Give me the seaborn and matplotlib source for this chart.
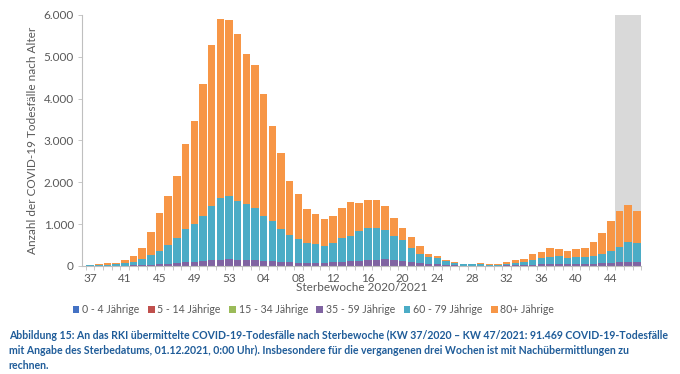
import matplotlib
matplotlib.use("Agg")
import matplotlib.pyplot as plt
import matplotlib.ticker as mticker
import numpy as np
import pandas as pd
import seaborn as sns

# Sterbewochen KW 37/2020 - KW 47/2021
weeks = [f"{w:02d}" for w in range(37, 54)] + [f"{w:02d}" for w in range(1, 48)]

age_groups = ["0 - 4 Jährige", "5 - 14 Jährige", "15 - 34 Jährige",
              "35 - 59 Jährige", "60 - 79 Jährige", "80+ Jährige"]

g_0_4 = [0] * 64
g_5_14 = [0] * 64
g_15_34 = [0, 0, 0, 0, 0, 1, 1, 1, 2, 2, 2, 3, 3, 4, 4, 5, 5,
           5, 4, 4, 4, 3, 3, 3, 2, 2, 2, 2, 3, 3, 4, 4, 5, 5, 5, 4, 3, 3, 2, 1, 1,
           1, 0, 0, 0, 0, 0, 0, 0, 0, 1, 1, 1, 1, 1, 2, 2, 2, 2, 2, 3, 3, 3, 3]
g_35_59 = [2, 3, 4, 5, 8, 12, 20, 30, 45, 55, 70, 90, 100, 110, 130, 145, 160,
           145, 140, 130, 115, 105, 90, 80, 75, 70, 70, 75, 85, 100, 110, 120, 130,
           140, 150, 130, 110, 85, 60, 45, 35, 20, 15, 8, 8, 8, 6, 6, 10, 15, 20,
           30, 35, 40, 45, 40, 40, 45, 50, 60, 70, 80, 90, 85]
g_60_79 = [8, 17, 26, 30, 52, 88, 140, 225, 320, 445, 590, 785, 895, 1085, 1290,
           1480, 1500, 1410, 1340, 1255, 1085, 960, 785, 645, 565, 470, 450, 405,
           455, 575, 590, 700, 770, 760, 695, 570, 495, 345, 225, 160, 150, 85, 55,
           32, 32, 32, 24, 24, 40, 55, 75, 115, 150, 165, 185, 145, 160, 155, 190,
           225, 290, 360, 475, 450]
g_80plus = [10, 30, 35, 45, 70, 140, 260, 545, 910, 1160, 1490, 2045, 2455, 3155,
            3860, 4275, 4210, 3995, 3580, 3415, 2910, 2285, 1815, 1305, 1080, 820,
            715, 645, 655, 705, 815, 680, 680, 680, 575, 450, 310, 255, 195, 80, 45,
            40, 25, 15, 10, 25, 10, 25, 40, 60, 75, 135, 150, 225, 175, 180, 200,
            230, 325, 495, 700, 865, 885, 770]

colors = ["#4472C4", "#C0504D", "#9BBB59", "#8064A2", "#4BACC6", "#F79646"]

df = pd.DataFrame({
    age_groups[0]: g_0_4, age_groups[1]: g_5_14, age_groups[2]: g_15_34,
    age_groups[3]: g_35_59, age_groups[4]: g_60_79, age_groups[5]: g_80plus,
}, index=weeks)

sns.set_theme(style="white")
plt.rcParams["font.family"] = ["Lato", "DejaVu Sans"]

fig = plt.figure(figsize=(6.8, 3.74), dpi=100)
ax = fig.add_axes([0.121, 0.289, 0.822, 0.671])

x = np.arange(len(weeks))
# grey band for the last three weeks (late reports expected)
ax.axvspan(len(weeks) - 3.5, len(weeks) - 0.5, color="#D9D9D9", lw=0, zorder=0)

bottom = np.zeros(len(weeks))
for grp, col in zip(age_groups, colors):
    vals = df[grp].values
    ax.bar(x, vals, bottom=bottom, width=0.86, color=col, label=grp,
           linewidth=0, zorder=2)
    bottom += vals

ax.set_xlim(-0.9, len(weeks) - 0.5)
ax.set_ylim(0, 6000)
ax.yaxis.set_major_locator(mticker.MultipleLocator(1000))
ax.yaxis.set_major_formatter(
    mticker.FuncFormatter(lambda v, p: f"{int(v):,}".replace(",", ".")))

ax.set_xticks(x[::4])
ax.set_xticklabels(weeks[::4])
ax.set_xticks(np.arange(-0.5, len(weeks), 1), minor=True)
ax.tick_params(axis="x", which="major", length=0, pad=5, labelsize=8.5,
               labelcolor="#595959")
ax.tick_params(axis="x", which="minor", length=3, width=0.6, color="#BFBFBF",
               bottom=True)
ax.tick_params(axis="y", length=3, width=0.6, color="#BFBFBF", left=True,
               labelsize=8.5, labelcolor="#595959", pad=3)

for s in ["top", "right"]:
    ax.spines[s].set_visible(False)
for s in ["left", "bottom"]:
    ax.spines[s].set_color("#BFBFBF")
    ax.spines[s].set_linewidth(0.8)

ax.set_xlabel("Sterbewoche 2020/2021", fontsize=8.5, color="#595959", labelpad=-1)
ax.set_ylabel("Anzahl der COVID-19 Todesfälle nach Alter", fontsize=8.5,
              color="#595959", labelpad=4)

ax.legend(loc="upper left", bbox_to_anchor=(-0.025, -0.135), ncol=6,
          frameon=False, fontsize=7.6, handlelength=0.65, handleheight=0.65,
          handletextpad=0.25, columnspacing=0.8, labelcolor="#595959",
          borderaxespad=0)

caption = ("Abbildung 15: An das RKI übermittelte COVID-19-Todesfälle nach "
           "Sterbewoche (KW 37/2020 – KW 47/2021: 91.469 COVID-19-Todesfälle\n"
           "mit Angabe des Sterbedatums, 01.12.2021, 0:00 Uhr). Insbesondere für "
           "die vergangenen drei Wochen ist mit Nachübermittlungen zu\n"
           "rechnen.")
fig.text(0.013, 0.117, caption, fontsize=7.6, color="#1F5C99",
         fontweight="bold", va="top", ha="left", linespacing=1.45)

fig.savefig("out.png", dpi=100)
